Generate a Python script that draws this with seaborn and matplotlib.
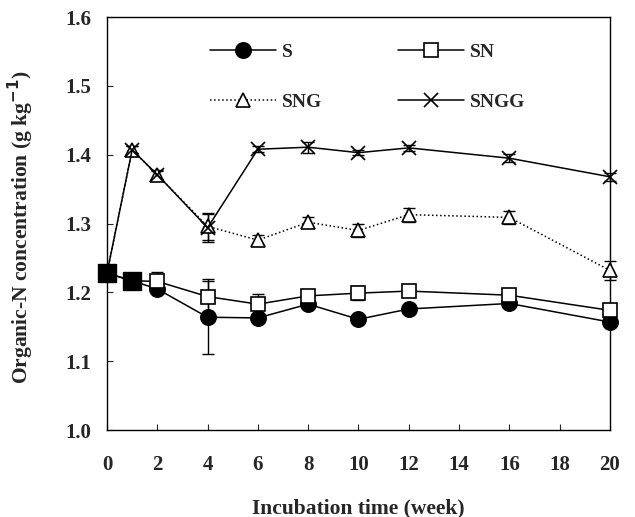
import numpy as np
import pandas as pd
import matplotlib
matplotlib.use("Agg")
import matplotlib.pyplot as plt
import seaborn as sns

# values
weeks = [0, 1, 2, 4, 6, 8, 10, 12, 16, 20]
s_vals = [1.228, 1.217, 1.205, 1.164, 1.163, 1.183, 1.161, 1.176, 1.184, 1.157]
sn_vals = [1.228, 1.217, 1.216, 1.194, 1.183, 1.195, 1.199, 1.202, 1.196, 1.174]
sng_vals = [1.228, 1.407, 1.371, 1.296, 1.276, 1.302, 1.290, 1.313, 1.309, 1.232]
sngg_vals = [1.228, 1.407, 1.371, 1.294, 1.408, 1.411, 1.403, 1.410, 1.395, 1.368]
s_err = [0.004, 0.004, 0.006, 0.053, 0.004, 0.004, 0.004, 0.004, 0.004, 0.004]
sn_err = [0.004, 0.004, 0.013, 0.025, 0.015, 0.006, 0.010, 0.007, 0.005, 0.006]
sng_err = [0.004, 0.005, 0.006, 0.020, 0.007, 0.007, 0.010, 0.010, 0.010, 0.014]
sngg_err = [0.004, 0.005, 0.007, 0.020, 0.004, 0.008, 0.004, 0.004, 0.006, 0.006]

sns.set_style("ticks")
plt.rcParams['font.family'] = ['Liberation Serif', 'DejaVu Serif']
plt.rcParams['font.weight'] = 'bold'

fig = plt.figure(figsize=(6.35, 5.17), dpi=100)
ax = fig.add_axes([0.1685, 0.168, 0.792, 0.799])

series = [
    ("S", s_vals, s_err, "o", "black", "-", 11),
    ("SN", sn_vals, sn_err, "s", "white", "-", 10),
    ("SNG", sng_vals, sng_err, "^", "white", ":", 10),
    ("SNGG", sngg_vals, sngg_err, "x", "black", "-", 10),
]

for name, vals, err, mk, fc, ls, ms in series:
    df = pd.DataFrame({"week": weeks, "value": vals})
    eb = ax.errorbar(weeks, vals, yerr=err, fmt="none", ecolor="black",
                     elinewidth=1, capsize=4, capthick=1, zorder=2)
    for art in eb.lines[1] + eb.lines[2]:
        art.set_clip_on(False)
    sns.lineplot(data=df, x="week", y="value", ax=ax, color="black",
                 linestyle=ls, linewidth=1.1, marker=mk, markersize=ms,
                 markerfacecolor=fc, markeredgecolor="black",
                 markeredgewidth=1.2, label=name, zorder=3, clip_on=False)

# initial (week 0-1) points drawn as filled squares
start = pd.DataFrame({"week": weeks[:2], "value": sn_vals[:2]})
sns.scatterplot(data=start, x="week", y="value", ax=ax, marker="s", s=150,
                color="black", edgecolor="black", zorder=5, clip_on=False,
                legend=False)

ax.set_xlim(0, 20)
ax.set_ylim(1.0, 1.6)
ax.set_xticks(range(0, 21, 2))
ax.set_yticks(np.arange(1.0, 1.61, 0.1))
ax.set_yticklabels([f"{v:.1f}" for v in np.arange(1.0, 1.61, 0.1)])
ax.tick_params(direction="in", length=4, labelsize=15)
ax.tick_params(axis="y", pad=11)
ax.tick_params(axis="x", pad=18)
for lab in ax.get_xticklabels() + ax.get_yticklabels():
    lab.set_fontweight("bold")
for sp in ax.spines.values():
    sp.set_visible(True)
    sp.set_linewidth(1)
    sp.set_color("black")

ax.set_xlabel("Incubation time (week)", fontsize=15.5, fontweight="bold")
ax.set_ylabel("Organic-N concentration (g kg$^{\\mathbf{-1}}$)", fontsize=15.5,
              fontweight="bold")
ax.xaxis.set_label_coords(0.5, -0.165)
ax.yaxis.set_label_coords(-0.142, 0.49)

h, l = ax.get_legend_handles_labels()
order = [0, 2, 1, 3]
ax.legend([h[i] for i in order], [l[i] for i in order], loc="upper left",
          ncol=2, frameon=False, fontsize=14, handlelength=3.4,
          handletextpad=0.3, columnspacing=3.9, labelspacing=1.65,
          bbox_to_anchor=(0.17, 0.978))

fig.savefig("out.png", dpi=100)
